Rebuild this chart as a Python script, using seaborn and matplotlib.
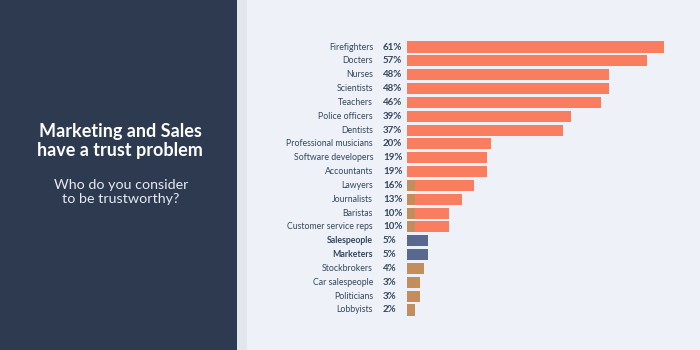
import matplotlib
matplotlib.use("Agg")
import matplotlib.pyplot as plt
import seaborn as sns
import pandas as pd
from matplotlib.patches import Rectangle

# データ
professions = ['Firefighters', 'Docters', 'Nurses', 'Scientists', 'Teachers',
               'Police officers', 'Dentists', 'Professional musicians',
               'Software developers', 'Accountants', 'Lawyers', 'Journalists',
               'Baristas', 'Customer service reps', 'Salespeople', 'Marketers',
               'Stockbrokers', 'Car salespeople', 'Politicians', 'Lobbyists']
trust_pct = [61, 57, 48, 48, 46, 39, 37, 20, 19, 19, 16, 13, 10, 10, 5, 5, 4, 3, 3, 2]
groups = ['high'] * 10 + ['mid'] * 4 + ['focus'] * 2 + ['low'] * 4
highlight = ['Salespeople', 'Marketers']

df = pd.DataFrame({'profession': professions, 'pct': trust_pct, 'group': groups})

palette = {'high': '#F97E5F', 'mid': '#F97E5F', 'focus': '#58688F', 'low': '#C38E5B'}
bg = '#EEF2F8'
text_col = '#33475B'

sns.set_theme(style='white')
plt.rcParams['font.family'] = ['Lato', 'DejaVu Sans']

fig = plt.figure(figsize=(7, 3.5), dpi=100, facecolor=bg)

# 左側の濃いパネル
fig.patches.append(Rectangle((0, 0), 237 / 700, 1, transform=fig.transFigure,
                             facecolor='#2D3A4F', edgecolor='none', zorder=0))
fig.patches.append(Rectangle((237 / 700, 0), 10 / 700, 1, transform=fig.transFigure,
                             facecolor='#E2E7EE', edgecolor='none', zorder=0))

fig.text(120 / 700, 1 - 141 / 350, 'Marketing and Sales\nhave a trust problem',
         ha='center', va='center', color='white', fontsize=13,
         fontweight='bold', linespacing=1.1)
fig.text(121 / 700, 1 - 192 / 350, 'Who do you consider\nto be trustworthy?',
         ha='center', va='center', color='#E6EBF2', fontsize=10.3,
         linespacing=1.15)

ax = fig.add_axes([407 / 700, 0, 293 / 700, 1])
ax.set_facecolor('none')

sns.barplot(data=df, x='pct', y='profession', hue='group', palette=palette,
            order=professions, dodge=False, width=0.8, ax=ax, legend=False,
            saturation=1, linewidth=0)

# 中位グループの左端の色味
mid = df[df['group'] == 'mid']
for name in mid['profession']:
    i = professions.index(name)
    ax.barh(i, 2, height=0.8, color='#C38E5B', linewidth=0, zorder=3)

ax.set_xlim(0, 293 / 4.21)
unit = 13.84
ax.set_ylim(19 + 40 / unit, -47 / unit)
ax.set_xlabel('')
ax.set_ylabel('')
ax.set_xticks([])
ax.set_yticks([])
for s in ax.spines.values():
    s.set_visible(False)

# ラベル
for i, (name, v) in enumerate(zip(professions, trust_pct)):
    bold = name in highlight
    ax.text(-34 / 4.21, i, name, ha='right', va='center', fontsize=6.3,
            color=text_col, fontweight='bold' if bold else 'normal')
    ax.text(-24 / 4.21, i, f'{v}%', ha='left', va='center', fontsize=7,
            color=text_col, fontweight='bold')

fig.savefig('out.png', dpi=100, facecolor=bg)
